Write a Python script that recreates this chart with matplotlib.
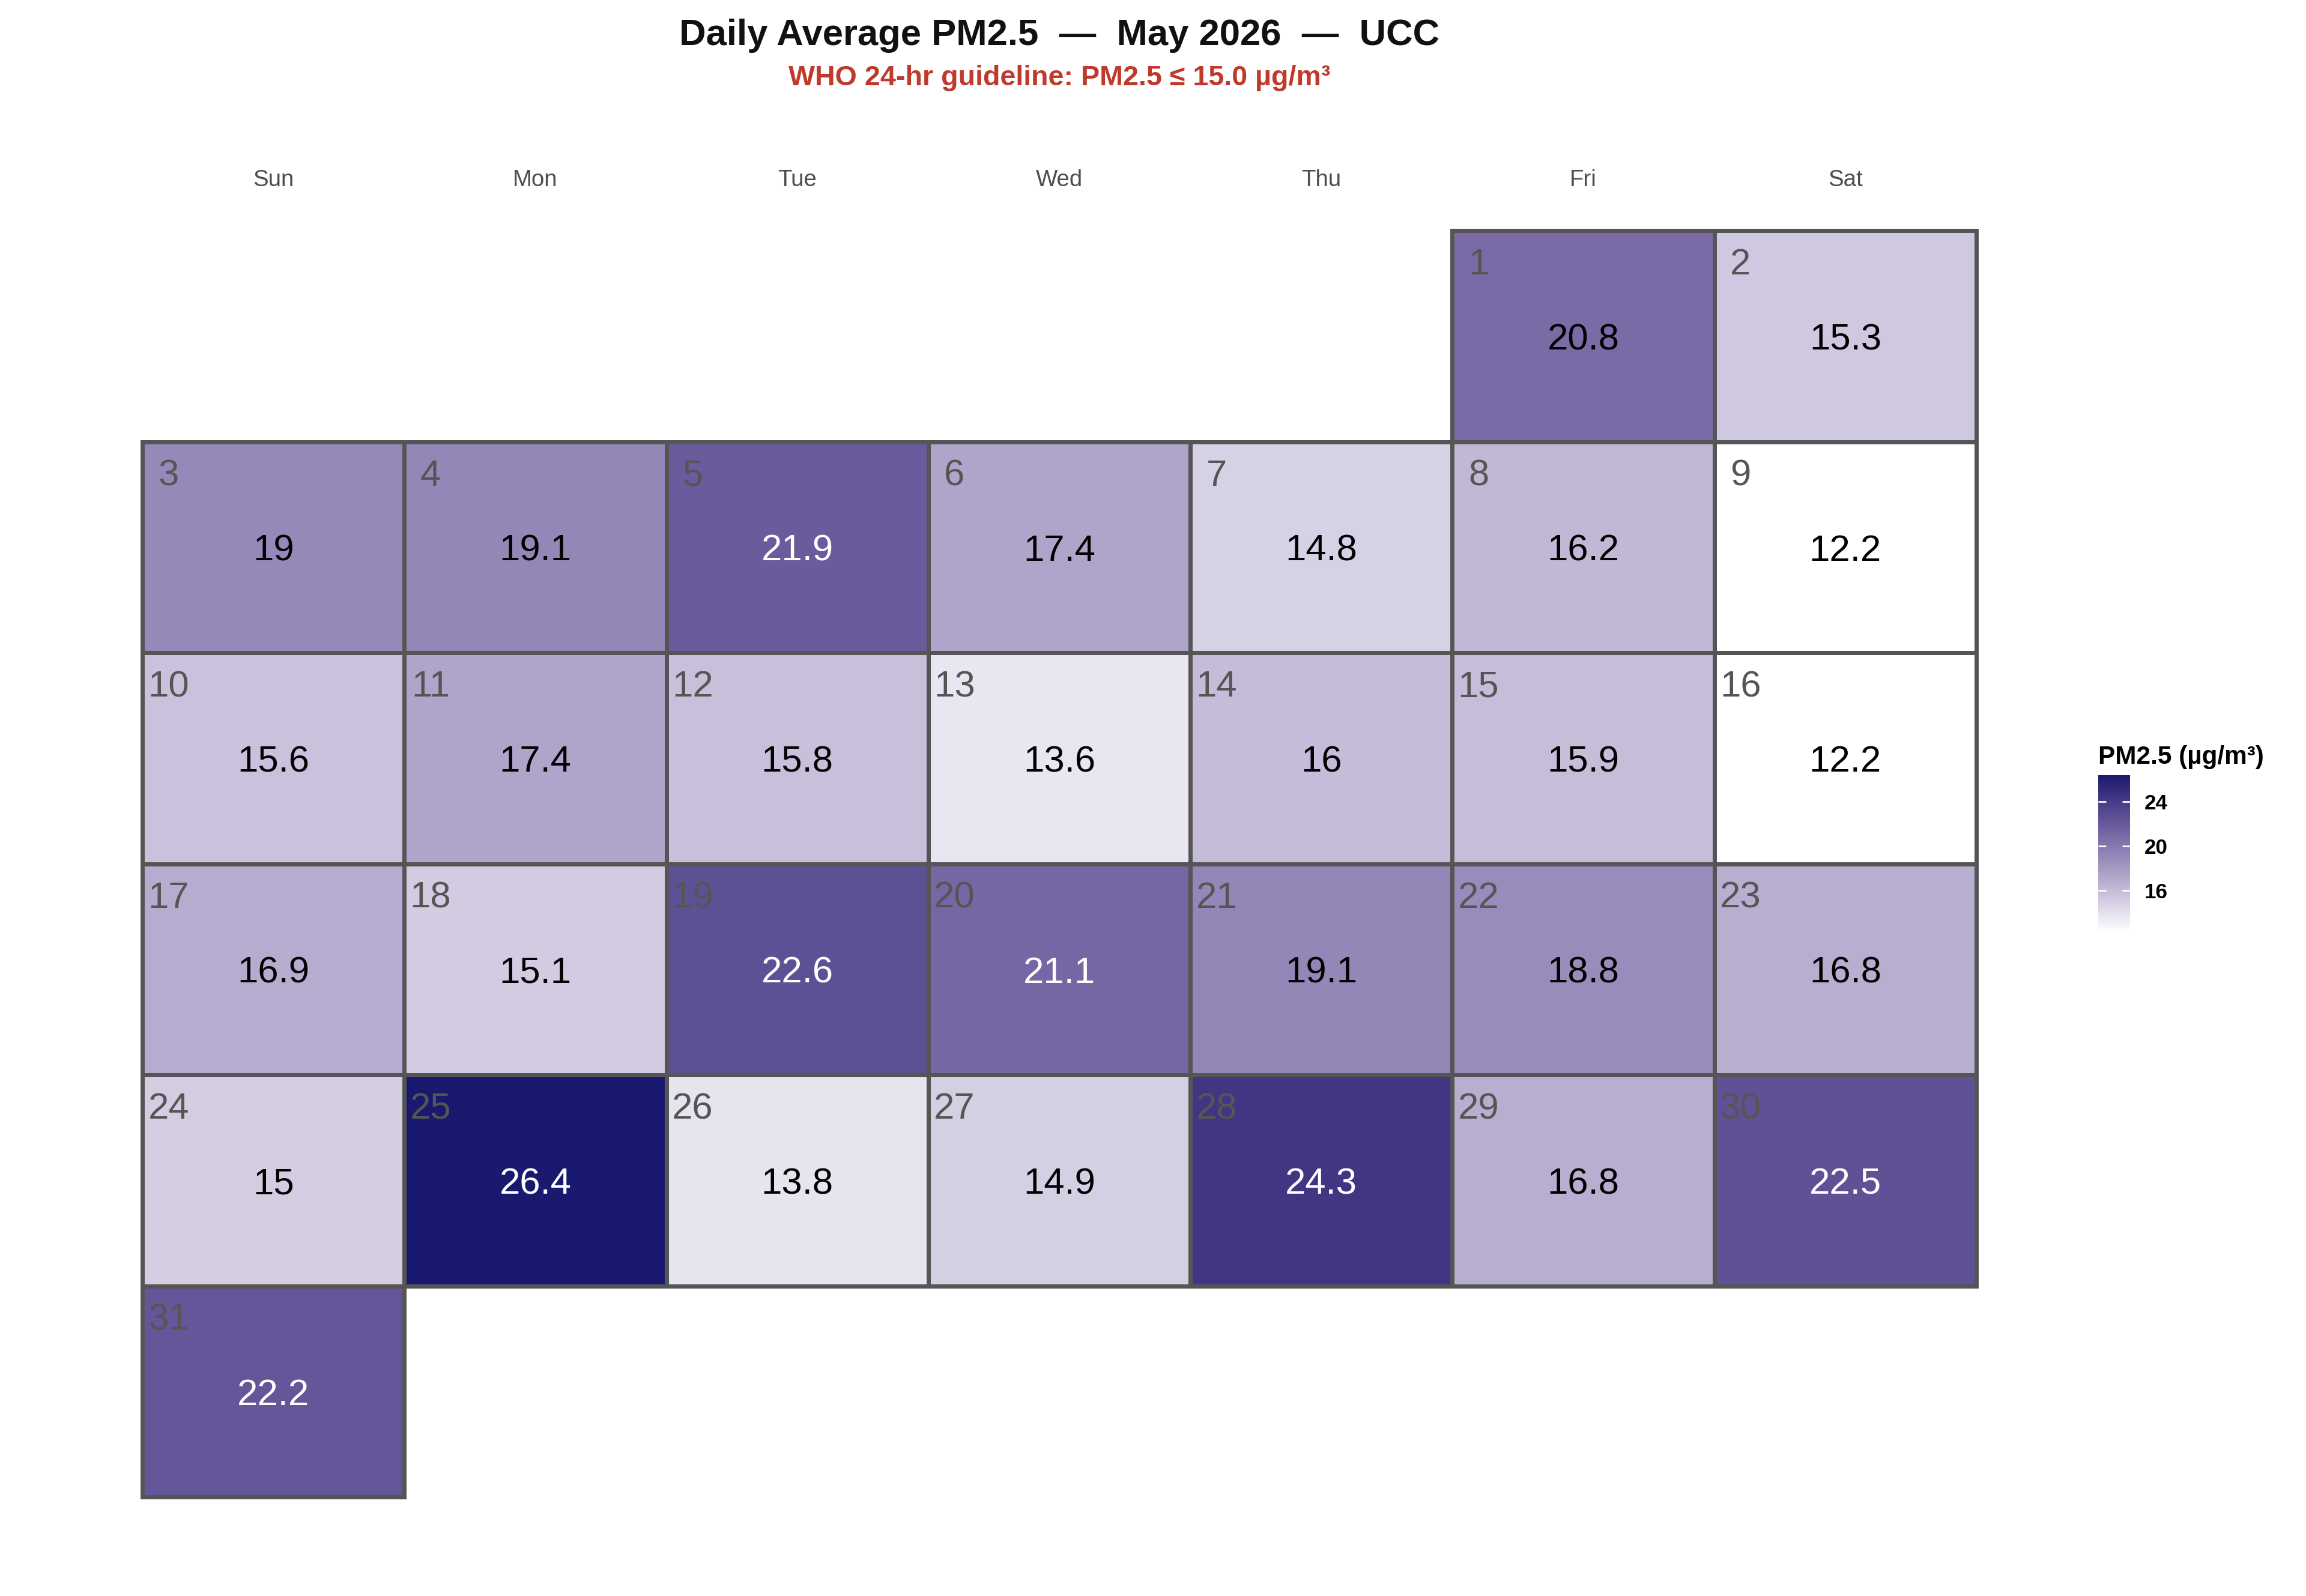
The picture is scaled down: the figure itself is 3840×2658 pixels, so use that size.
import datetime
import numpy as np
import matplotlib
matplotlib.use("Agg")
import matplotlib.pyplot as plt
from matplotlib.colors import ListedColormap, Normalize
from matplotlib.patches import Rectangle
from matplotlib.cm import ScalarMappable

plt.rcParams['font.family'] = ['Liberation Sans', 'DejaVu Sans']

# data
year, month = 2026, 5
days = list(range(1, 32))
pm25 = [20.8, 15.3, 19, 19.1, 21.9, 17.4, 14.8, 16.2, 12.2, 15.6,
        17.4, 15.8, 13.6, 16, 15.9, 12.2, 16.9, 15.1, 22.6, 21.1,
        19.1, 18.8, 16.8, 15, 26.4, 13.8, 14.9, 24.3, 16.8, 22.5, 22.2]
weekdays = ["Sun", "Mon", "Tue", "Wed", "Thu", "Fri", "Sat"]
cbar_ticks = [16, 20, 24]
title = "Daily Average PM2.5  \u2014  May 2026  \u2014  UCC"
subtitle = "WHO 24-hr guideline: PM2.5 \u2264 15.0 \u00b5g/m\u00b3"


# white -> midnightblue gradient interpolated in Lab (like ggplot)
def srgb_to_lab(c):
    c = np.asarray(c, float)
    lin = np.where(c <= 0.04045, c / 12.92, ((c + 0.055) / 1.055) ** 2.4)
    m = np.array([[0.4124, 0.3576, 0.1805],
                  [0.2126, 0.7152, 0.0722],
                  [0.0193, 0.1192, 0.9505]])
    xyz = m @ lin / np.array([0.95047, 1.0, 1.08883])
    f = np.where(xyz > 0.008856, np.cbrt(xyz), 7.787 * xyz + 16 / 116)
    return np.array([116 * f[1] - 16, 500 * (f[0] - f[1]), 200 * (f[1] - f[2])])


def lab_to_srgb(lab):
    L, a, b = lab
    fy = (L + 16) / 116
    fx = fy + a / 500
    fz = fy - b / 200
    f = np.array([fx, fy, fz])
    xyz = np.where(f ** 3 > 0.008856, f ** 3, (f - 16 / 116) / 7.787)
    xyz = xyz * np.array([0.95047, 1.0, 1.08883])
    minv = np.array([[3.2406, -1.5372, -0.4986],
                     [-0.9689, 1.8758, 0.0415],
                     [0.0557, -0.2040, 1.0570]])
    lin = minv @ xyz
    c = np.where(lin <= 0.0031308, 12.92 * lin, 1.055 * np.clip(lin, 0, None) ** (1 / 2.4) - 0.055)
    return np.clip(c, 0, 1)


low = srgb_to_lab([1, 1, 1])
high = srgb_to_lab(np.array([25, 25, 112]) / 255)
cols = [lab_to_srgb(low + t * (high - low)) for t in np.linspace(0, 1, 256)]
cmap = ListedColormap(cols)
norm = Normalize(vmin=min(pm25), vmax=max(pm25))

W, H = 3840, 2658
fig = plt.figure(figsize=(W / 240, H / 240), dpi=240)

left, right, top, bottom = 237, 3291, 384, 2493
ax = fig.add_axes([left / W, 1 - bottom / H, (right - left) / W, (bottom - top) / H])
ax.set_xlim(-0.5, 6.5)
ax.set_ylim(5.5, -0.5)
ax.axis("off")

first_col = (datetime.date(year, month, 1).weekday() + 1) % 7  # Sunday = 0
for d, v in zip(days, pm25):
    idx = first_col + d - 1
    col, row = idx % 7, idx // 7
    ax.add_patch(Rectangle((col - 0.5, row - 0.5), 1, 1, facecolor=cmap(norm(v)),
                           edgecolor="#555555", linewidth=2.1, clip_on=False))
    ax.text(col - 0.4, row - 0.335, str(d), ha="center", va="center",
            fontsize=18.5, color="#555555")
    ax.text(col, row + 0.02, f"{v:g}", ha="center", va="center", fontsize=18.5,
            color="white" if v > 21 else "black")

for i, wd in enumerate(weekdays):
    ax.text(i, -0.74, wd, ha="center", va="center", fontsize=11.5,
            color="#4d4d4d", clip_on=False)

cx = (left + right) / 2 / W
fig.text(cx, 1 - 60 / H, title, ha="center", va="center", fontsize=18.5,
         fontweight="bold", color="#111111")
fig.text(cx, 1 - 130 / H, subtitle, ha="center", va="center", fontsize=14,
         fontweight="bold", color="#c0392b")

# colour bar legend
cax = fig.add_axes([3494 / W, 1 - 1553 / H, 53 / W, 262 / H])
cb = fig.colorbar(ScalarMappable(norm=norm, cmap=cmap), cax=cax, ticks=cbar_ticks)
cb.outline.set_visible(False)
cax.tick_params(axis="y", which="both", direction="in", length=4, width=0.8,
                colors="white", left=True, right=True, labelsize=10.5, pad=7)
for lbl in cax.get_yticklabels():
    lbl.set_color("black")
    lbl.set_fontweight("bold")
fig.text(3494 / W, 1 - 1272 / H, "PM2.5 (\u00b5g/m\u00b3)", ha="left", va="baseline",
         fontsize=12.7, fontweight="bold", color="black")

fig.savefig("out.png", dpi=240, facecolor="white")
